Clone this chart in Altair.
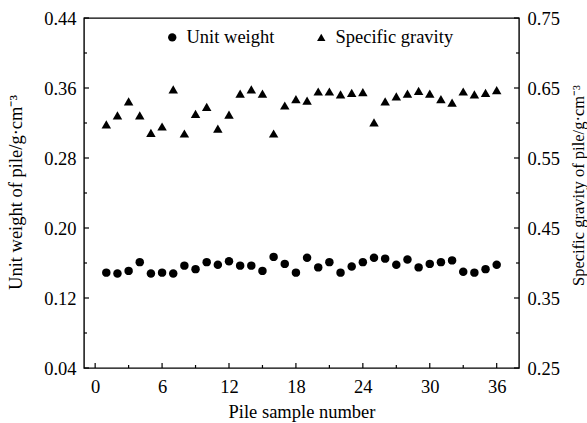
import altair as alt
import pandas as pd

samples = list(range(1, 37))
unit_weight = [0.149, 0.148, 0.151, 0.161, 0.148, 0.149, 0.148, 0.157, 0.153, 0.161,
               0.158, 0.162, 0.157, 0.157, 0.151, 0.167, 0.159, 0.149, 0.166, 0.155,
               0.161, 0.149, 0.156, 0.161, 0.166, 0.165, 0.158, 0.164, 0.155, 0.159,
               0.161, 0.163, 0.150, 0.149, 0.153, 0.158]
specific_gravity = [0.598, 0.611, 0.631, 0.611, 0.586, 0.595, 0.648, 0.585, 0.613, 0.623,
                    0.592, 0.612, 0.642, 0.648, 0.642, 0.585, 0.625, 0.634, 0.632, 0.645,
                    0.645, 0.641, 0.643, 0.644, 0.601, 0.631, 0.638, 0.642, 0.646, 0.642,
                    0.634, 0.629, 0.645, 0.641, 0.643, 0.647]

x_major = [0, 6, 12, 18, 24, 30, 36]
x_minor = [3, 9, 15, 21, 27, 33]
left_major = [0.04, 0.12, 0.20, 0.28, 0.36, 0.44]
left_minor = [0.08, 0.16, 0.24, 0.32, 0.40]
right_major = [0.25, 0.35, 0.45, 0.55, 0.65, 0.75]
right_minor = [0.30, 0.40, 0.50, 0.60, 0.70]

W, H = 435, 350
FONT = "Liberation Serif"

df = pd.DataFrame({"sample": samples, "unit": unit_weight, "sg": specific_gravity})

x_scale = alt.Scale(domain=[-1, 38], nice=False, zero=False)
x_axis = alt.Axis(values=x_major, ticks=False, domain=False, grid=False, labelPadding=9,
                  labelFontSize=18.5, title="Pile sample number", titleFontSize=18.5,
                  titleX=W / 2, titleY=43, titleBaseline="middle", titleAlign="center")
left_scale = alt.Scale(domain=[0.04, 0.44], nice=False, zero=False)
left_axis = alt.Axis(values=left_major, format=".2f", ticks=False, domain=False, grid=False,
                     labelPadding=8, orient="left", labelFontSize=18.5,
                     title="Unit weight of pile/g·cm⁻³", titleFontSize=18.5,
                     titleAngle=270, titleX=-69, titleY=174,
                     titleBaseline="middle", titleAlign="center")
right_scale = alt.Scale(domain=[0.25, 0.75], nice=False, zero=False)
right_axis = alt.Axis(values=right_major, format=".2f", ticks=False, domain=False, grid=False,
                      labelPadding=8, orient="right", labelFontSize=18.5,
                      title="Specific gravity of pile/g·cm⁻³", titleFontSize=16.5,
                      titleAngle=270, titleX=59, titleY=167,
                      titleBaseline="middle", titleAlign="center")

shape_scale = alt.Scale(domain=["Unit weight", "Specific gravity"],
                        range=["circle", "triangle-up"])
legend = alt.Legend(orient="none", legendX=79, legendY=10, direction="horizontal", title=None,
                    labelFont=FONT, labelFontSize=18.5, labelColor="black", symbolSize=70,
                    symbolFillColor="black", symbolStrokeColor="black", columnPadding=37,
                    labelOffset=5)

X = lambda f: alt.X(f, type="quantitative", scale=x_scale, axis=x_axis)
YL = lambda f: alt.Y(f, type="quantitative", scale=left_scale, axis=left_axis)
YR = lambda f: alt.Y(f, type="quantitative", scale=right_scale, axis=right_axis)

circles = alt.Chart(df).transform_calculate(series="'Unit weight'").mark_point(
    filled=True, color="black", opacity=1, size=72
).encode(x=X("sample"), y=YL("unit"),
         shape=alt.Shape("series:N", scale=shape_scale, legend=legend))

triangles = alt.Chart(df).transform_calculate(series="'Specific gravity'").mark_point(
    filled=True, color="black", opacity=1, size=90
).encode(x=X("sample"), y=YR("sg"),
         shape=alt.Shape("series:N", scale=shape_scale, legend=legend))

def hticks(values, length, yenc, right=False):
    d = pd.DataFrame({"v": values})
    if right:
        xe, x2e = alt.value(W), alt.value(W - length)
    else:
        xe, x2e = alt.value(0), alt.value(length)
    return alt.Chart(d).mark_rule(color="black", strokeWidth=1.2).encode(
        y=yenc("v"), x=xe, x2=x2e)

def vticks(values, length):
    d = pd.DataFrame({"v": values})
    return alt.Chart(d).mark_rule(color="black", strokeWidth=1.2).encode(
        x=X("v"), y=alt.value(H), y2=alt.value(H - length))

left_layer = alt.layer(
    circles,
    hticks(left_major, 5, YL), hticks(left_minor, 3, YL),
    vticks(x_major, 5), vticks(x_minor, 3),
)
right_layer = alt.layer(
    triangles,
    hticks(right_major, 5, YR, right=True), hticks(right_minor, 3, YR, right=True),
)

chart = alt.layer(left_layer, right_layer).resolve_scale(
    y="independent"
).properties(
    width=W, height=H,
    autosize=alt.AutoSizeParams(type="none"),
    padding={"left": 84, "top": 18, "right": 68, "bottom": 55},
    background="white",
).configure_view(
    stroke="black", strokeWidth=1.4
).configure_axis(
    labelFont=FONT, labelColor="black",
    titleFont=FONT, titleColor="black", titleFontWeight="normal",
)

chart.save("out.html", embed_options={"renderer": "svg", "actions": False})
